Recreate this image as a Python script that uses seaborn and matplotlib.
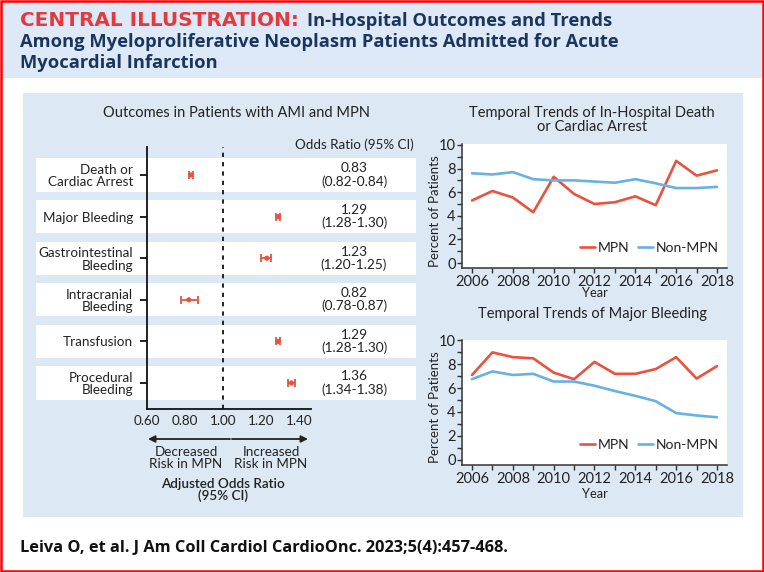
import numpy as np
import pandas as pd
import matplotlib
matplotlib.use("Agg")
import matplotlib.pyplot as plt
import seaborn as sns
from matplotlib.patches import Rectangle
from matplotlib import transforms
from matplotlib.ticker import MultipleLocator

# ---------------- data ----------------
outcomes = ["Death or\nCardiac Arrest", "Major Bleeding", "Gastrointestinal\nBleeding",
            "Intracranial\nBleeding", "Transfusion", "Procedural\nBleeding"]
odds_ratio = [0.83, 1.29, 1.23, 0.82, 1.29, 1.36]
ci_low = [0.82, 1.28, 1.20, 0.78, 1.28, 1.34]
ci_high = [0.84, 1.30, 1.25, 0.87, 1.30, 1.38]
or_ticks = [0.60, 0.80, 1.00, 1.20, 1.40]

years = list(range(2006, 2019))
death_mpn = [5.3, 6.1, 5.55, 4.3, 7.3, 5.85, 5.0, 5.15, 5.65, 4.9, 8.65, 7.4, 7.85]
death_non = [7.6, 7.5, 7.7, 7.1, 7.0, 7.0, 6.9, 6.8, 7.1, 6.75, 6.35, 6.35, 6.45]
bleed_mpn = [7.1, 9.0, 8.6, 8.5, 7.3, 6.75, 8.2, 7.2, 7.2, 7.6, 8.6, 6.8, 7.85]
bleed_non = [6.75, 7.4, 7.1, 7.2, 6.55, 6.55, 6.2, 5.75, 5.35, 4.9, 3.9, 3.7, 3.55]
groups = ["MPN", "Non-MPN"]

# ---------------- style ----------------
sns.set_style("ticks")
plt.rcParams['font.family'] = ['Lato', 'DejaVu Sans']
RED = "#e8533f"
BLUE = "#67b2e2"
TXT = "#222222"
NAVY = "#1b365d"
TRED = "#e23a3f"
PANEL = "#dce8f4"
HEADFONT = ["Open Sans", "DejaVu Sans"]

W, H = 764, 572
fig = plt.figure(figsize=(W / 100, H / 100), dpi=100)
fig.patch.set_facecolor("white")


def rect(l, t, r, b):
    return [l / W, 1 - b / H, (r - l) / W, (b - t) / H]


def fx(x):
    return x / W


def fy(y):
    return 1 - y / H


# backgrounds
fig.add_artist(Rectangle((2 / W, fy(78)), (W - 4) / W, 76 / H, transform=fig.transFigure,
                         facecolor="#dde9f6", edgecolor="none", zorder=-10))
fig.add_artist(Rectangle((23 / W, fy(517)), (743 - 23) / W, (517 - 93) / H, transform=fig.transFigure,
                         facecolor=PANEL, edgecolor="none", zorder=-10))
fig.add_artist(Rectangle((1.2 / W, 1.2 / H), (W - 2.4) / W, (H - 2.4) / H, transform=fig.transFigure,
                         facecolor="none", edgecolor="#ff0000", lw=1.8, zorder=20))

# header
fig.text(fx(20), fy(26.5), "CENTRAL ILLUSTRATION:", color=TRED, fontsize=14.4,
         fontweight="bold", family=["DejaVu Sans"], va="baseline")
fig.text(fx(307), fy(26.5), "In-Hospital Outcomes and Trends", color=NAVY, fontsize=13.2,
         fontweight="bold", family=HEADFONT, va="baseline")
fig.text(fx(20), fy(47), "Among Myeloproliferative Neoplasm Patients Admitted for Acute", color=NAVY,
         fontsize=13.2, fontweight="bold", family=HEADFONT, va="baseline")
fig.text(fx(20), fy(67.5), "Myocardial Infarction", color=NAVY, fontsize=13.2, fontweight="bold",
         family=HEADFONT, va="baseline")

# footer
fig.text(fx(20), fy(552), "Leiva O, et al. J Am Coll Cardiol CardioOnc. 2023;5(4):457-468.", color="#111111",
         fontsize=11.8, fontweight="bold", family=HEADFONT, va="baseline")

# ---------------- forest plot ----------------
axf = fig.add_axes(rect(147, 147, 311, 409))
axf.set_facecolor("none")
pos = list(range(len(outcomes)))
blend = transforms.blended_transform_factory(fig.transFigure, axf.transData)
for i in pos:
    axf.add_patch(Rectangle((36 / W, i - 0.4), (416 - 36) / W, 0.8, transform=blend,
                            facecolor="white", edgecolor="none", zorder=0, clip_on=False))
axf.axvline(1.0, color=TXT, ls=(0, (2.2, 2.6)), lw=1.4, zorder=1)
xerr = [np.array(odds_ratio) - np.array(ci_low), np.array(ci_high) - np.array(odds_ratio)]
axf.errorbar(odds_ratio, pos, xerr=xerr, fmt="none", ecolor=RED, elinewidth=1.3,
             capsize=2.6, capthick=1.3, zorder=3)
sns.scatterplot(x=odds_ratio, y=pos, color=RED, s=14, edgecolor="none", ax=axf, zorder=4)
axf.set_xlim(0.6, 1.463)
axf.set_ylim(5.625, -0.673)
axf.set_yticks(pos)
axf.set_yticklabels(outcomes, fontsize=9.7, color=TXT, linespacing=1.05)
axf.set_xticks(or_ticks)
axf.set_xticklabels([f"{v:.2f}" for v in or_ticks], fontsize=9.7, color=TXT)
axf.tick_params(axis="y", length=5, width=1.3, pad=5, color="#111111")
axf.tick_params(axis="x", length=0, pad=4)
for s in ["top", "right"]:
    axf.spines[s].set_visible(False)
for s in ["left", "bottom"]:
    axf.spines[s].set_color("#111111")
    axf.spines[s].set_linewidth(1.3)
axf.set_xlabel("")
axf.set_ylabel("")

for i in pos:
    axf.text(354 / W, i, f"{odds_ratio[i]:.2f}\n({ci_low[i]:.2f}-{ci_high[i]:.2f})", transform=blend,
             ha="center", va="center", fontsize=9.8, color=TXT, linespacing=1.05)
fig.text(fx(354), fy(145), "Odds Ratio (95% CI)", ha="center", va="center", fontsize=9.6, color=TXT)
fig.text(fx(237), fy(113), "Outcomes in Patients with AMI and MPN", ha="center", va="center",
         fontsize=10.5, color=TXT)

arrow_kw = dict(arrowstyle="-|>", color=TXT, lw=1.3, mutation_scale=10, shrinkA=0, shrinkB=0)
fig.add_artist(matplotlib.patches.FancyArrowPatch((fx(230), fy(439)), (fx(148), fy(439)),
                                                  transform=fig.transFigure, **arrow_kw))
fig.add_artist(matplotlib.patches.FancyArrowPatch((fx(232), fy(439)), (fx(308), fy(439)),
                                                  transform=fig.transFigure, **arrow_kw))
fig.text(fx(186), fy(458), "Decreased\nRisk in MPN", ha="center", va="center", fontsize=9.7,
         color=TXT, linespacing=1.0)
fig.text(fx(271), fy(458), "Increased\nRisk in MPN", ha="center", va="center", fontsize=9.7,
         color=TXT, linespacing=1.0)
fig.text(fx(223), fy(490), "Adjusted Odds Ratio\n(95% CI)", ha="center", va="center", fontsize=9.7,
         color=TXT, fontweight="semibold", linespacing=1.0)


# ---------------- trend plots ----------------
def trend(box, mpn, non, ylim, title, title_y, ylab_y, year_y):
    ax = fig.add_axes(rect(*box))
    ax.set_facecolor("white")
    df = pd.DataFrame({"Year": years * 2, "Percent": mpn + non,
                       "Group": [groups[0]] * len(years) + [groups[1]] * len(years)})
    sns.lineplot(data=df, x="Year", y="Percent", hue="Group", palette={groups[0]: RED, groups[1]: BLUE},
                 lw=1.9, ax=ax)
    ax.set_xlim(2005.51, 2018.49)
    ax.set_ylim(*ylim)
    ax.set_yticks([0, 2, 4, 6, 8, 10])
    ax.yaxis.set_minor_locator(MultipleLocator(1))
    ax.set_xticks(list(range(2006, 2019, 2)))
    ax.xaxis.set_minor_locator(MultipleLocator(1))
    ax.tick_params(which="both", direction="out", length=3.5, width=1, color="#333333",
                   labelsize=10.5, labelcolor=TXT)
    ax.tick_params(axis="y", which="both", pad=1)
    ax.tick_params(axis="x", which="both", pad=1.2)
    for s in ["top", "right"]:
        ax.spines[s].set_visible(False)
    for s in ["left", "bottom"]:
        ax.spines[s].set_color("#333333")
        ax.spines[s].set_linewidth(1.1)
    ax.set_xlabel("")
    ax.set_ylabel("")
    h, l = ax.get_legend_handles_labels()
    ax.legend(h, l, loc="center right", bbox_to_anchor=(0.97, 0.16), ncol=2, frameon=False,
              fontsize=10, handlelength=1.1, handletextpad=0.2, columnspacing=0.6,
              borderaxespad=0, borderpad=0, labelcolor=TXT)
    fig.text(fx(592), fy(title_y), title, ha="center", va="center", fontsize=10.5, color=TXT,
             linespacing=1.05)
    fig.text(fx(435), fy(ylab_y), "Percent of Patients", ha="center", va="center", rotation=90,
             fontsize=9.5, color=TXT)
    fig.text(fx(595), fy(year_y), "Year", ha="center", va="center", fontsize=9.3, color=TXT)
    return ax


trend((462, 144, 727, 268), death_mpn, death_non, (-0.42, 10.08),
      "Temporal Trends of In-Hospital Death\nor Cardiac Arrest", 120, 211, 293)
trend((462, 340, 727, 465), bleed_mpn, bleed_non, (-0.46, 10.04),
      "Temporal Trends of Major Bleeding", 314, 407, 494)

fig.savefig("out.png", dpi=100, facecolor="white")
